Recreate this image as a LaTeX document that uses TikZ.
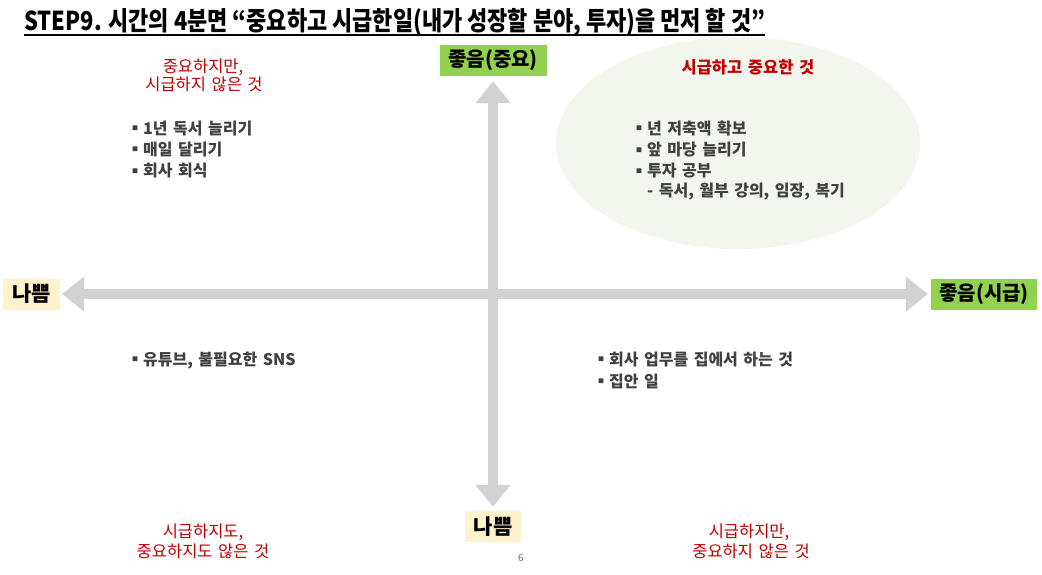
\documentclass[tikz,border=0pt]{standalone}
\usepackage{fontspec}
\usepackage{graphicx}
\setmainfont[WordSpace=1.5]{Noto Sans CJK KR}
\newfontfamily\titlefont{Noto Sans CJK KR}
\usetikzlibrary{arrows.meta,calc}
\definecolor{axisgray}{RGB}{210,210,210}
\definecolor{goodgreen}{RGB}{146,208,80}
\definecolor{badyellow}{RGB}{255,242,204}
\definecolor{ellgreen}{RGB}{242,246,238}
\definecolor{txtgray}{RGB}{64,64,64}
\definecolor{redtxt}{RGB}{192,0,0}
\definecolor{pagegray}{RGB}{110,110,110}
\newcommand{\bul}{\raisebox{3.4pt}{\fontsize{6}{6}\selectfont ■}\hspace{5pt}}
\begin{document}
\begin{tikzpicture}[x=1pt,y=-1pt,
  item/.style={anchor=base west, inner sep=0pt, text=txtgray, font=\fontsize{16}{18}\selectfont\bfseries},
  note/.style={anchor=base, inner sep=0pt, text=redtxt, font=\fontsize{16.5}{18}\selectfont},
  goodbox/.style={fill=goodgreen, inner sep=0pt, minimum height=31pt, text=black, font=\fontsize{20}{20}\selectfont\bfseries},
  badbox/.style={fill=badyellow, inner sep=0pt, minimum height=31pt, text=black, font=\fontsize{21}{21}\selectfont\bfseries},
  axis/.style={draw=axisgray, line width=10pt, {Triangle[width=34pt,length=22pt]}-{Triangle[width=34pt,length=22pt]}}
]
\useasboundingbox (0,0) rectangle (1042,574);
\fill[white] (0,0) rectangle (1042,574);

% title
\node[anchor=base west, inner sep=0pt] (title) at (24,30)
  {\resizebox{741pt}{\height}{\titlefont\fontsize{26}{26}\selectfont\bfseries STEP9. 시간의 4분면 “중요하고 시급한일(내가 성장할 분야, 투자)을 먼저 할 것”}};
\draw[line width=1.5pt] ($(title.base west)+(0,5)$) -- ($(title.base east)+(0,5)$);

% highlight ellipse
\fill[ellgreen] (738,143) ellipse [x radius=182pt, y radius=106pt];

% axis labels
\node[goodbox, minimum width=107pt] (goodImp) at (493,60.5) {좋음(중요)};
\node[badbox, minimum width=56pt] (badImp) at (493,526.5) {나쁨};
\node[badbox, minimum width=57pt] (badUrg) at (31.5,294) {나쁨};
\node[goodbox, minimum width=106pt] (goodUrg) at (984,294) {좋음(시급)};

% axes
\draw[axis] ($(goodImp.south)+(0,5)$) -- ($(badImp.north)+(0,-4)$);
\draw[axis] ($(badUrg.east)+(2,0)$) -- ($(goodUrg.west)+(-3,0)$);

% upper left quadrant
\node[note] (ulA) at (203,72) {중요하지만,};
\node[note] (ulB) at (204,90.5) {시급하지 않은 것};
\node[item] (ul1) at (132,134) {\bul 1년 독서 늘리기};
\node[item] (ul2) at (132,155) {\bul 매일 달리기};
\node[item] (ul3) at (132,176.5) {\bul 회사 회식};

% upper right quadrant
\node[note, font=\fontsize{16.5}{18}\selectfont\bfseries] (urA) at (748,73) {시급하고 중요한 것};
\node[item] (ur1) at (636,134) {\bul 년 저축액 확보};
\node[item] (ur2) at (636,155.5) {\bul 앞 마당 늘리기};
\node[item] (ur3) at (636,176.5) {\bul 투자 공부};
\node[item] (ur4) at (636,196.5) {\hphantom{\bul}- 독서, 월부 강의, 임장, 복기};

% lower left quadrant
\node[item] (ll1) at (132,365) {\bul 유튜브, 불필요한 SNS};
\node[note] (llA) at (203,537) {시급하지도,};
\node[note] (llB) at (203,557) {중요하지도 않은 것};

% lower right quadrant
\node[item] (lr1) at (598,365) {\bul 회사 업무를 집에서 하는 것};
\node[item] (lr2) at (598,387) {\bul 집안 일};
\node[note] (lrA) at (749,537) {시급하지만,};
\node[note] (lrB) at (751,557) {중요하지 않은 것};

% page number
\node[inner sep=0pt, text=pagegray, font=\fontsize{10}{10}\selectfont] (page) at (521,558) {6};
\end{tikzpicture}
\end{document}
